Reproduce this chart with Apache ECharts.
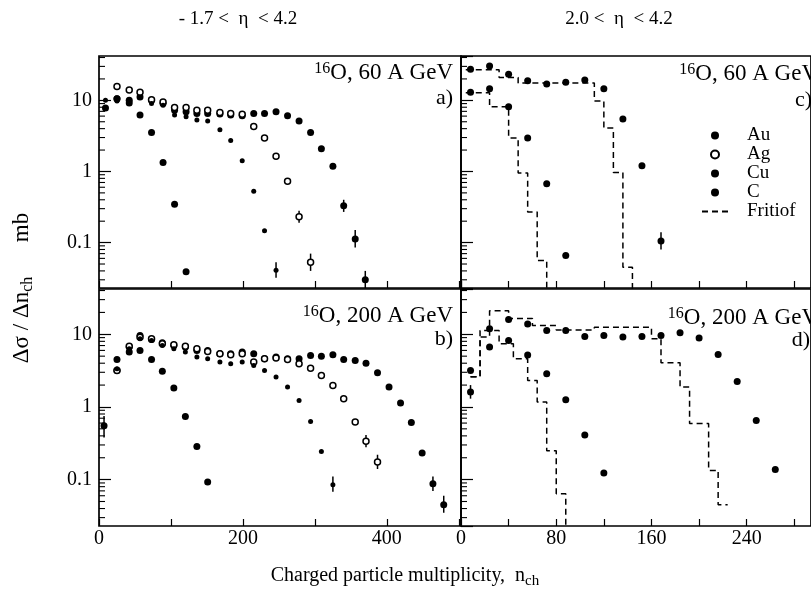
<!DOCTYPE html>
<html><head><meta charset="utf-8">
<script src="https://cdn.jsdelivr.net/npm/echarts@6.0.0/dist/echarts.min.js"></script>
<style>html,body{margin:0;padding:0;background:#fff}#c{width:811px;height:596px}</style>
</head><body><div id="c"></div>
<script>
// ---------- data ----------
// panel a: -1.7<eta<4.2, 16O 60 A GeV
const aAuX = [25,42,57,73,89,105,121,136,151,168,183,199,215,230,246,262,278,294,309,325,340,356,370];
const aAuY = [10.5,10,11.1,10,9.0,7.28,6.9,6.55,6.55,6.41,6.2,6.07,6.55,6.55,6.9,6.07,5.13,3.54,2.09,1.18,0.33,0.112,0.030];
const aAgX = [25,42,57,73,89,105,121,136,151,168,183,199,215,230,246,262,278,294];
const aAgY = [15.6,14.0,13.0,10.2,9.47,7.9,7.9,7.28,7.28,6.76,6.55,6.35,4.28,2.96,1.63,0.73,0.23,0.053];
const aCuX = [9,25,42,57,73,89,105,121,136,151,168,183,199,215,230,246];
const aCuY = [10,9.8,9.2,11.1,9.0,8.5,6.2,5.88,5.3,5.13,3.86,2.72,1.41,0.525,0.147,0.041];
const aCX = [9,25,42,57,73,89,105,121];
const aCY = [7.8,10.5,9.2,6.2,3.54,1.34,0.345,0.039];
// panel b: -1.7<eta<4.2, 16O 200 A GeV
const bAuX = [7,25,42,57,73,88,104,120,136,151,168,183,199,215,230,246,262,278,294,309,325,340,356,371,387,403,419,434,449,464,479];
const bAuY = [0.55,3.17,6.67,9.64,8.5,7.64,7.02,6.67,5.99,5.99,5.4,5.4,5.69,5.4,4.6,4.85,4.6,4.6,5.11,5.0,5.22,4.5,4.36,4.01,2.95,1.88,1.13,0.61,0.232,0.088,0.045];
const bAgX = [25,42,57,73,88,104,120,136,151,168,183,199,215,230,246,262,278,294,309,325,340,356,371,387];
const bAgY = [3.17,6.87,9.14,8.67,7.4,7.17,6.87,6.32,5.8,5.4,5.22,5.4,4.14,4.6,4.7,4.5,3.93,3.42,2.71,1.98,1.30,0.62,0.336,0.175];
const bCuX = [25,42,57,73,88,104,120,136,151,168,183,199,215,230,246,262,278,294,309,325];
const bCuY = [3.35,6.32,8.67,8.22,7.02,6.32,5.69,4.85,4.6,4.14,3.93,4.14,3.72,3.17,2.58,1.88,1.23,0.63,0.244,0.085];
const bCX = [25,42,57,73,88,104,120,136,151];
const bCY = [4.5,5.7,5.99,4.5,3.1,1.83,0.74,0.286,0.093];
// panel c: 2.0<eta<4.2, 16O 60 A GeV
const cAuX = [8,24,40,56,72,88,104,120,136,152,168];
const cAuY = [27.4,30.4,23.3,18.9,17,17.9,19.3,14.5,5.47,1.2,0.105];
const cCX = [8,24,40,56,72,88];
const cCY = [13,14.5,8.1,2.96,0.67,0.066];
// panel d: 2.0<eta<4.2, 16O 200 A GeV
const dAuX = [8,24,40,56,72,88,104,120,136,152,168,184,200,216,232,248,264];
const dAuY = [3.17,11.9,16,13.9,11.3,11.3,9.3,9.6,9.15,9.3,9.6,10.5,8.9,5.27,2.24,0.65,0.138];
const dCX = [8,24,40,56,72,88,104,120];
const dCY = [1.6,6.67,8.2,5.2,2.87,1.26,0.41,0.123];
// Fritiof histograms: bin edges and levels (last level repeated at final edge)
const cFritHiEdges = [4,32,48,112,120,128,136,144,152];
const cFritHiLevels = [27,21,17.5,9.8,4.07,0.97,0.045,0.001];
const cFritLoEdges = [4,24,40,48,56,64,72,80];
const cFritLoLevels = [12.8,8.1,2.96,0.95,0.27,0.056,0.001];
const dFritHiEdges = [8,16,24,40,60,80,112,160,168,184,192,208,216,224];
const dFritHiLevels = [2.6,9.2,21,16.5,13.2,11.5,12.5,8.7,4.06,1.88,0.59,0.134,0.045];
const dFritLoEdges = [8,16,32,44,56,64,72,80,88,96];
const dFritLoLevels = [2.6,11.3,7.4,4.6,2.32,1.17,0.25,0.064,0.001];
// error bars [x, low, high]
const errA = [[340,0.27,0.40],[356,0.085,0.15],[278,0.19,0.28],[294,0.04,0.07],[246,0.032,0.053],[370,0.023,0.04]];
const errB = [[7,0.38,0.75],[325,0.068,0.11],[371,0.28,0.41],[387,0.14,0.22],[464,0.07,0.11],[479,0.035,0.06]];
const errC = [[168,0.08,0.14]];
const errD = [[8,1.3,2.0]];
// axis ticks
const leftXTicks = [0,200,400];
const rightXTicks = [0,80,160,240];
const yTickLabels = [0.1,1,10];
const yMinorTicks = [0.03,0.04,0.05,0.06,0.07,0.08,0.09,0.2,0.3,0.4,0.5,0.6,0.7,0.8,0.9,2,3,4,5,6,7,8,9,20,30,40];

// ---------- chart ----------
const FONT = '"Liberation Serif", "Times New Roman", serif';
const Y_MIN = 0.023, Y_MAX = 42;
const LX_MAX = 503, RX_MAX = 294;
const zip = (xs, ys) => xs.map((x, i) => [x, ys[i]]);
const steps = (edges, levels) => edges.map((e, i) => [e, levels[Math.min(i, levels.length - 1)]]);

const grids = [
  {left: 99, top: 56, width: 362, height: 232},
  {left: 99, top: 289, width: 362, height: 237},
  {left: 461, top: 56, width: 351, height: 232},
  {left: 461, top: 289, width: 351, height: 237}
].map(g => Object.assign(g, {show: true, borderColor: '#000', borderWidth: 1.7, backgroundColor: 'transparent'}));

function xAxis(i, max, interval, labels, showLabels) {
  return {
    type: 'value', gridIndex: i, min: 0, max: max, interval: interval,
    axisLine: {show: false}, splitLine: {show: false},
    axisTick: {show: true, inside: true, length: 7, lineStyle: {color: '#000', width: 1.2}},
    axisLabel: {show: showLabels, color: '#000', fontFamily: FONT, fontSize: 20, margin: 3,
      showMaxLabel: false,
      formatter: v => labels.indexOf(v) >= 0 ? String(v) : ''}
  };
}
function yAxis(i, showLabels) {
  return {
    type: 'log', logBase: 10, gridIndex: i, min: Y_MIN, max: Y_MAX,
    axisLine: {show: false}, splitLine: {show: false},
    axisTick: {show: true, inside: true, length: 12, lineStyle: {color: '#000', width: 1.2}},
    axisLabel: {show: showLabels, color: '#000', fontFamily: FONT, fontSize: 20, margin: 7,
      showMinLabel: false, showMaxLabel: false,
      formatter: v => {
        for (const t of yTickLabels) if (Math.abs(v - t) / t < 1e-6) return String(t);
        return '';
      }}
  };
}

const symAu = {symbol: 'circle', symbolSize: 7, itemStyle: {color: '#000', opacity: 1}};
const symAg = {symbol: 'circle', symbolSize: 6, itemStyle: {color: '#fff', borderColor: '#000', borderWidth: 1.5, opacity: 1}};
const symCu = {symbol: 'circle', symbolSize: 5, itemStyle: {color: '#000', opacity: 1}};
const symC = {symbol: 'circle', symbolSize: 7, itemStyle: {color: '#000', opacity: 1}};

function scat(name, idx, xs, ys, sym) {
  return Object.assign({type: 'scatter', name, xAxisIndex: idx, yAxisIndex: idx, data: zip(xs, ys), z: 5, silent: true}, sym);
}
function frit(idx, edges, levels) {
  return {type: 'line', name: 'Fritiof', xAxisIndex: idx, yAxisIndex: idx, step: 'end', symbol: 'none', clip: true,
    data: steps(edges, levels), lineStyle: {color: '#000', width: 1.5, type: [6, 4]}, itemStyle: {color: '#000'}, z: 3, silent: true};
}
function errSeries(idx, errs) {
  return {type: 'custom', xAxisIndex: idx, yAxisIndex: idx, data: errs, silent: true, z: 4, clip: true,
    renderItem: (p, api) => {
      const a = api.coord([api.value(0), api.value(1)]);
      const b = api.coord([api.value(0), api.value(2)]);
      return {type: 'line', shape: {x1: a[0], y1: a[1], x2: b[0], y2: b[1]}, style: {stroke: '#000', lineWidth: 1.5}};
    }};
}
function minorTicks(idx) {
  return {type: 'custom', xAxisIndex: idx, yAxisIndex: idx, data: yMinorTicks.map(v => [0, v]), silent: true, z: 2,
    renderItem: (p, api) => {
      const a = api.coord([0, api.value(1)]);
      return {type: 'line', shape: {x1: a[0], y1: a[1], x2: a[0] + 6, y2: a[1]}, style: {stroke: '#000', lineWidth: 1.1}};
    }};
}

function panelLabel(x, y, main, tag, tagX, tagY) {
  return [
    {type: 'text', x: x, y: y, style: {
      text: '{s|16}{m|' + main + '}', align: 'right', verticalAlign: 'middle', textAlign: 'right', textVerticalAlign: 'middle',
      rich: {s: {fontSize: 16, fontFamily: FONT, fill: '#000', verticalAlign: 'top', lineHeight: 25},
             m: {fontSize: 23, fontFamily: FONT, fill: '#000', lineHeight: 25}}}},
    {type: 'text', x: tagX, y: tagY, style: {text: tag, font: '22px ' + FONT, fill: '#000',
      align: 'right', verticalAlign: 'middle', textAlign: 'right', textVerticalAlign: 'middle'}}
  ];
}

const option = {
  animation: false,
  backgroundColor: '#fff',
  grid: grids,
  xAxis: [xAxis(0, LX_MAX, 100, leftXTicks, false), xAxis(1, LX_MAX, 100, leftXTicks, true),
          xAxis(2, RX_MAX, 40, rightXTicks, false), xAxis(3, RX_MAX, 40, rightXTicks, true)],
  yAxis: [yAxis(0, true), yAxis(1, true), yAxis(2, false), yAxis(3, false)],
  legend: {
    orient: 'vertical', left: 696, top: 121, itemGap: 0, itemWidth: 26, itemHeight: 8,
    selectedMode: false,
    data: ['Au', 'Ag', 'Cu', 'C', {name: 'Fritiof', itemStyle: {opacity: 0}}],
    textStyle: {fontFamily: FONT, fontSize: 19, color: '#000', lineHeight: 17, padding: [0, 0, 0, 14]}
  },
  series: [
    minorTicks(0), minorTicks(1), minorTicks(2), minorTicks(3),
    scat('Au', 0, aAuX, aAuY, symAu), scat('Ag', 0, aAgX, aAgY, symAg), scat('Cu', 0, aCuX, aCuY, symCu), scat('C', 0, aCX, aCY, symC),
    scat('Au', 1, bAuX, bAuY, symAu), scat('Ag', 1, bAgX, bAgY, symAg), scat('Cu', 1, bCuX, bCuY, symCu), scat('C', 1, bCX, bCY, symC),
    scat('Au', 2, cAuX, cAuY, symAu), scat('C', 2, cCX, cCY, symC),
    scat('Au', 3, dAuX, dAuY, symAu), scat('C', 3, dCX, dCY, symC),
    frit(2, cFritHiEdges, cFritHiLevels), frit(2, cFritLoEdges, cFritLoLevels),
    frit(3, dFritHiEdges, dFritHiLevels), frit(3, dFritLoEdges, dFritLoLevels),
    errSeries(0, errA), errSeries(1, errB), errSeries(2, errC), errSeries(3, errD)
  ],
  graphic: [
    {type: 'text', x: 238, y: 19, style: {text: '- 1.7 <  η  < 4.2', font: '19px ' + FONT, fill: '#000', align: 'center', verticalAlign: 'middle', textAlign: 'center', textVerticalAlign: 'middle'}},
    {type: 'text', x: 619, y: 19, style: {text: '2.0 <  η  < 4.2', font: '19px ' + FONT, fill: '#000', align: 'center', verticalAlign: 'middle', textAlign: 'center', textVerticalAlign: 'middle'}},
    ...panelLabel(453, 73, 'O, 60 A GeV', 'a)', 453, 98),
    ...panelLabel(453, 316, 'O, 200 A GeV', 'b)', 453, 339),
    ...panelLabel(818, 74, 'O, 60 A GeV', 'c)', 812, 100),
    ...panelLabel(818, 318, 'O, 200 A GeV', 'd)', 810, 340),
    {type: 'text', x: 405, y: 576, style: {
      text: '{m|Charged particle multiplicity,  n}{s|ch}', align: 'center', verticalAlign: 'middle', textAlign: 'center', textVerticalAlign: 'middle',
      rich: {m: {fontSize: 20, fontFamily: FONT, fill: '#000', lineHeight: 26}, s: {fontSize: 15, fontFamily: FONT, fill: '#000', verticalAlign: 'bottom', lineHeight: 26}}}},
    {type: 'text', x: 22, y: 288, rotation: Math.PI / 2, style: {
      text: '{m|Δσ / Δn}{s|ch}{m|      mb}', align: 'center', verticalAlign: 'middle', textAlign: 'center', textVerticalAlign: 'middle',
      rich: {m: {fontSize: 23, fontFamily: FONT, fill: '#000', lineHeight: 28}, s: {fontSize: 16, fontFamily: FONT, fill: '#000', verticalAlign: 'bottom', lineHeight: 28}}}}
  ]
};
const chart = echarts.init(document.getElementById('c'), null, {renderer: 'canvas'});
chart.setOption(option);
</script></body></html>
